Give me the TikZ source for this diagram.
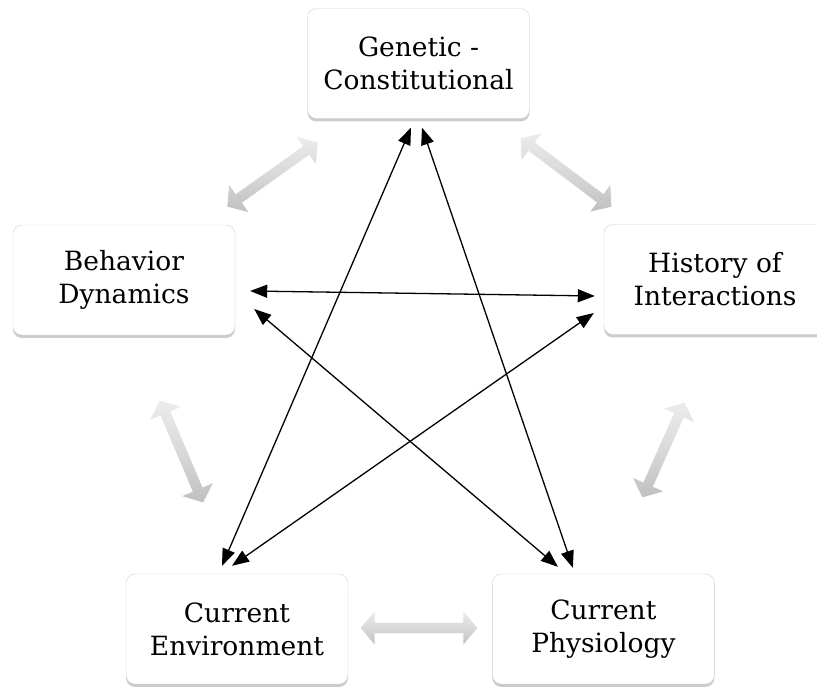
\documentclass[tikz,border=0pt]{standalone}
\usepackage{fontspec}
\setmainfont{DejaVu Serif}
\usetikzlibrary{shapes.arrows,arrows.meta,shadows,positioning}

\tikzset{
    factor/.style={draw=gray!35, fill=white, rounded corners=9pt,
        minimum width=222pt, minimum height=110pt, align=center,
        font=\fontsize{26.5}{33}\selectfont,
        drop shadow={shadow xshift=0pt, shadow yshift=-3pt, opacity=0.4, fill=gray}},
    link/.style={{Triangle[length=17pt,width=13pt]}-{Triangle[length=17pt,width=13pt]}, line width=1.3pt},
    garrow/.style={double arrow, minimum width=36pt, double arrow head extend=8pt,
        double arrow tip angle=100, draw=white, line width=0.8pt,
        top color=gray!15, bottom color=gray!50, middle color=gray!30}
}

\begin{document}
\begin{tikzpicture}[x=1pt,y=1pt]
            \useasboundingbox (0,0) rectangle (817,688);

            % Define the five factor boxes
            \node (gen) [factor] at (418.5,624.5) {Genetic -\\Constitutional};
            \node (beh) [factor] at (124,408) {Behavior\\Dynamics};
            \node (his) [factor] at (715,408.5) {History of\\Interactions};
            \node (env) [factor] at (237,59) {Current\\Environment};
            \node (phy) [factor, right=144pt of env] {Current\\Physiology};

            % Add the grey arrows round the ring
            \node (g1) [garrow, minimum height=112pt, rotate=35.5] at (272.5,513.5) {};
            \node (g2) [garrow, minimum height=115pt, rotate=-37] at (566,515.5) {};
            \node (g3) [garrow, minimum height=112pt, rotate=-67] at (181.5,236.5) {};
            \node (g4) [garrow, minimum height=105pt, rotate=66] at (663.5,238) {};
            \node (g5) [garrow, minimum height=118pt] at (419,60) {};

            % Draw the star of links
            \draw[link] ([xshift=-7.5pt,yshift=-9pt]gen.south) -- ([xshift=-15pt,yshift=8pt]env.north);
            \draw[link] ([xshift=3.5pt,yshift=-9pt]gen.south) -- ([xshift=-30.5pt,yshift=6pt]phy.north);
            \draw[link] ([xshift=15pt,yshift=-11pt]beh.east) -- ([xshift=-9pt,yshift=-16.5pt]his.west);
            \draw[link] ([xshift=19pt,yshift=-29pt]beh.east) -- ([xshift=-45.5pt,yshift=7pt]phy.north);
            \draw[link] ([xshift=-10pt,yshift=-33.5pt]his.west) -- ([xshift=-5pt,yshift=8pt]env.north);

\end{tikzpicture}
\end{document}
